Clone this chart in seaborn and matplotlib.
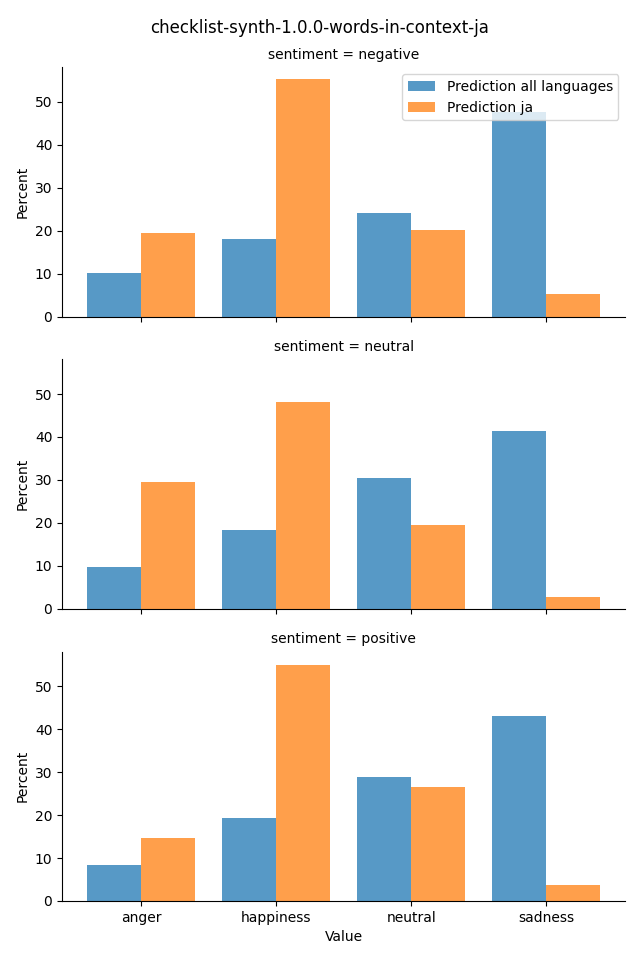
import numpy as np
import pandas as pd
import seaborn as sns
import matplotlib.pyplot as plt
from matplotlib.patches import Patch

values = ['anger', 'happiness', 'neutral', 'sadness']
sentiments = ['negative', 'neutral', 'positive']
series = ['Prediction all languages', 'Prediction ja']
colors = ['tab:blue', 'tab:orange']

# percent per value, one list per sentiment row
all_lang = {
    'negative': [10.2, 18.1, 24.0, 47.7],
    'neutral': [9.8, 18.4, 30.5, 41.4],
    'positive': [8.4, 19.3, 28.8, 43.0],
}
ja = {
    'negative': [19.5, 55.3, 20.2, 5.3],
    'neutral': [29.5, 48.1, 19.5, 2.8],
    'positive': [14.7, 54.9, 26.5, 3.7],
}

rows = []
for s in sentiments:
    for v, a, j in zip(values, all_lang[s], ja[s]):
        rows.append({'sentiment': s, 'Value': v, 'Percent': a, 'kind': series[0]})
        rows.append({'sentiment': s, 'Value': v, 'Percent': j, 'kind': series[1]})
df = pd.DataFrame(rows)

g = sns.catplot(data=df, x='Value', y='Percent', hue='kind', row='sentiment',
                kind='bar', order=values, hue_order=series, row_order=sentiments,
                palette=colors, alpha=0.75, saturation=1, width=0.8,
                legend=False, errorbar=None, height=3, aspect=2)
g.figure.set_size_inches(6.4, 9.6)
g.set_titles('sentiment = {row_name}')
g.set(xlim=(-0.585, 3.585))
handles = [Patch(facecolor=c, alpha=0.75, label=l) for c, l in zip(colors, series)]
g.axes[0, 0].legend(handles=handles, loc='upper right')
g.figure.suptitle('checklist-synth-1.0.0-words-in-context-ja')
g.figure.subplots_adjust(left=0.097, right=0.977, top=0.93, bottom=0.0615, hspace=0.172)
g.figure.savefig('out.png', dpi=100)
